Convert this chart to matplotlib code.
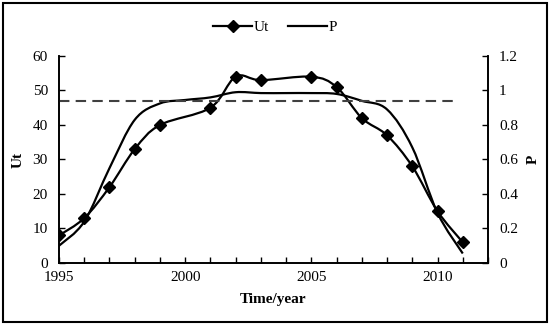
import numpy as np
import matplotlib
matplotlib.use('Agg')
import matplotlib.pyplot as plt
from matplotlib.path import Path
from matplotlib.patches import PathPatch, Rectangle
from matplotlib.lines import Line2D
from matplotlib.ticker import MultipleLocator

plt.rcParams['font.family'] = ['Liberation Serif', 'DejaVu Serif']

# data
ut_years = [1995, 1996, 1997, 1998, 1999, 2001, 2002, 2003, 2005, 2006, 2007, 2008, 2009, 2010, 2011]
ut_values = [8, 13, 22, 33, 40, 45, 54, 53, 54, 51, 42, 37, 28, 15, 6]
p_years = [1995, 1996, 1997, 1998, 1999, 2000, 2001, 2002, 2003, 2004, 2005, 2006, 2007, 2008, 2009, 2010, 2011]
p_values = [0.10, 0.24, 0.55, 0.83, 0.925, 0.945, 0.96, 0.99, 0.985, 0.985, 0.985, 0.98, 0.94, 0.89, 0.67, 0.29, 0.055]
threshold = 0.94
threshold_span = [1995, 2010.75]


def smooth_path(xs, ys):
    # Excel-style smoothed line: Catmull-Rom segments as cubic Beziers
    pts = np.column_stack([xs, ys]).astype(float)
    verts = [pts[0]]
    codes = [Path.MOVETO]
    for i in range(len(pts) - 1):
        p0 = pts[i - 1] if i > 0 else pts[i]
        p1 = pts[i]
        p2 = pts[i + 1]
        p3 = pts[i + 2] if i + 2 < len(pts) else pts[i + 1]
        verts += [p1 + (p2 - p0) / 6, p2 - (p3 - p1) / 6, p2]
        codes += [Path.CURVE4] * 3
    return Path(verts, codes)


fig = plt.figure(figsize=(5.5, 3.25), dpi=100)
ax = fig.add_axes([0.1073, 0.1908, 0.7800, 0.6369])
ax2 = ax.twinx()

ax.add_patch(PathPatch(smooth_path(ut_years, ut_values), fill=False, lw=1.6, color='black'))
ax.plot(ut_years, ut_values, ls='none', marker='D', ms=6.5, color='black')
ax2.add_patch(PathPatch(smooth_path(p_years, p_values), fill=False, lw=1.6, color='black'))
ax2.plot(threshold_span, [threshold, threshold], ls=(0, (5, 3)), lw=1.5, color='#404040')

ax.set_xlim(1995, 2012)
ax.set_ylim(0, 60)
ax2.set_ylim(0, 1.2)
ax.xaxis.set_major_locator(MultipleLocator(5))
ax.xaxis.set_minor_locator(MultipleLocator(1))
ax.yaxis.set_major_locator(MultipleLocator(10))
ax2.yaxis.set_major_locator(MultipleLocator(0.2))
ax2.yaxis.set_major_formatter(plt.FuncFormatter(lambda v, p: f'{v:g}'))

for a in (ax, ax2):
    a.spines['top'].set_visible(False)
    for s in a.spines.values():
        s.set_linewidth(1.2)
    a.tick_params(which='both', direction='in', length=4, width=1.0, labelsize=11)
ax.tick_params(axis='x', pad=6)
ax.tick_params(axis='y', pad=8)
ax2.tick_params(axis='y', pad=8)

ax.set_xlabel('Time/year', fontsize=11, fontweight='bold', labelpad=6)
ax.set_ylabel('Ut', fontsize=11, fontweight='bold', labelpad=6)
ax2.set_ylabel('P', fontsize=11, fontweight='bold', labelpad=6)

handles = [Line2D([], [], color='black', lw=1.6, marker='D', ms=6),
           Line2D([], [], color='black', lw=1.6)]
fig.legend(handles, ['Ut', 'P'], loc='center', bbox_to_anchor=(0.5, 0.915), ncol=2,
           frameon=False, fontsize=11, handlelength=2.6, handletextpad=0.1, columnspacing=1.2)

fig.add_artist(Rectangle((0.006, 0.01), 0.988, 0.982, transform=fig.transFigure,
                         fill=False, lw=1.5, color='black'))

fig.savefig('out.png', dpi=100)
